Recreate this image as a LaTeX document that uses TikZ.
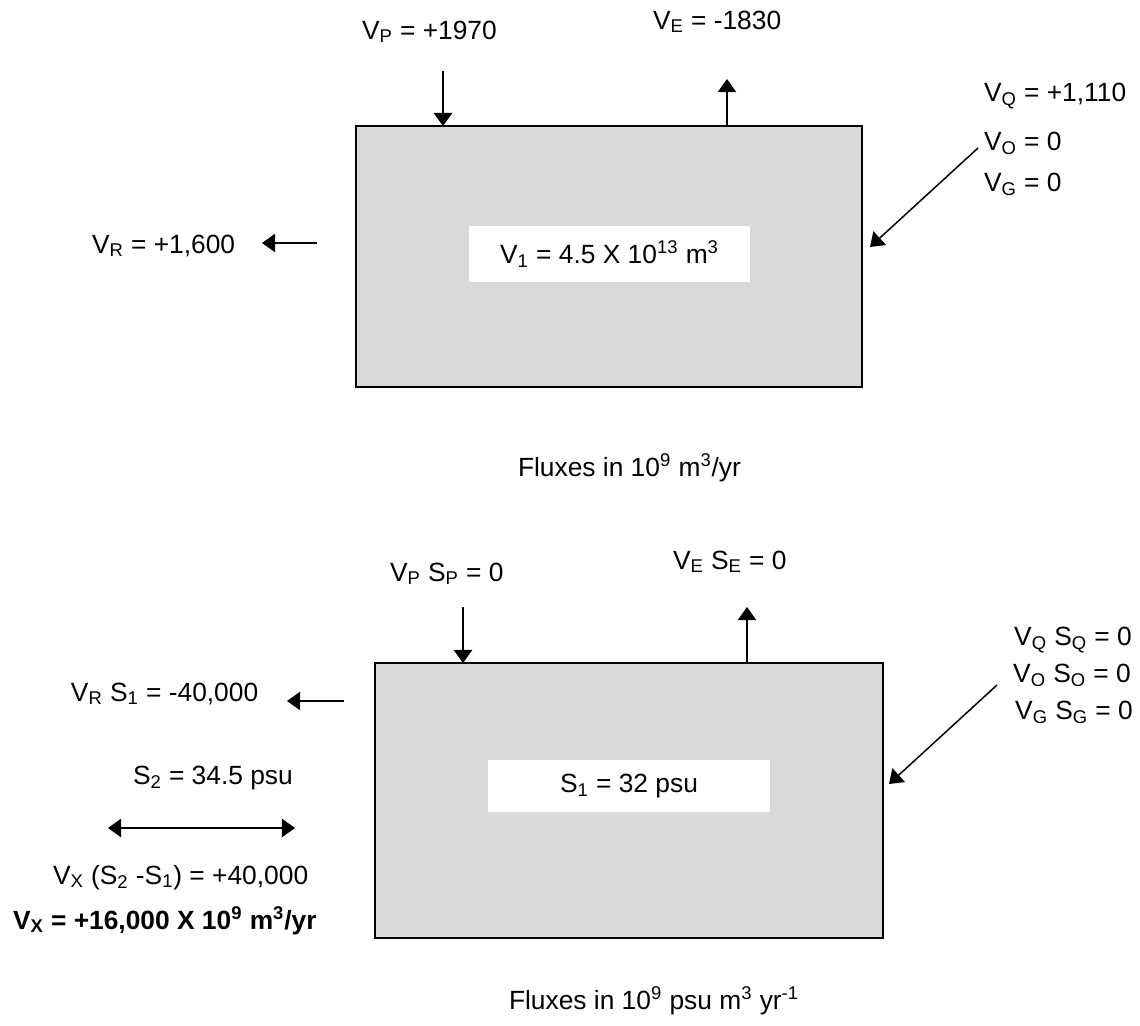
\documentclass[tikz,border=0pt]{standalone}
\usepackage{fontspec}
\setmainfont{Liberation Sans}
\usetikzlibrary{arrows.meta}
\definecolor{boxgray}{HTML}{D9D9D9}
\newcommand{\sbs}[1]{\textsubscript{#1}}
\newcommand{\sps}[1]{\textsuperscript{#1}}
\tikzset{
  pool/.style={draw=black, line width=1.1pt, fill=boxgray, inner sep=0pt, outer sep=0pt},
  inbox/.style={fill=white, inner sep=0pt, outer sep=0pt, font=\fontsize{15}{18}\selectfont},
  lbl/.style={inner sep=0pt, outer sep=0pt, anchor=base west, font=\fontsize{15}{18}\selectfont},
  lblc/.style={inner sep=0pt, outer sep=0pt, anchor=base, font=\fontsize{15}{18}\selectfont},
  tip/.tip={Triangle[length=7.5pt,width=10.5pt]},
  flow/.style={line width=0.85pt, -tip},
  bflow/.style={line width=0.85pt, tip-tip},
}
\begin{document}
\begin{tikzpicture}[x=0.02cm,y=-0.02cm]
\useasboundingbox (0,0) rectangle (1140,1025);
% ---------- top panel ----------
\node[pool, minimum width=10.12cm, minimum height=5.22cm] (box1) at (609,256.5) {};
\node[inbox, minimum width=5.62cm, minimum height=1.12cm] (v1) at (609.5,254)
  {V\sbs{1} = 4.5 X 10\sps{13} m\sps{3}};
\node[lbl] (vp1) at (362,39) {V\sbs{P} = +1970};
\node[lbl] (ve1) at (653,29) {V\sbs{E} = -1830};
\node[lbl] (vq1) at (984,101) {V\sbs{Q} = +1,110};
\node[lbl] (vo1) at (984,150) {V\sbs{O} = 0};
\node[lbl] (vg1) at (984,191) {V\sbs{G} = 0};
\node[lbl] (vr1) at (92,253) {V\sbs{R} = +1,600};
\node[lbl] (fl1) at (518,476) {Fluxes in 10\sps{9} m\sps{3}/yr};
\coordinate (p1s) at (443,71);
\coordinate (e1e) at (727,79);
\coordinate (r1s) at (317,243);
\coordinate (r1e) at (262,243);
\coordinate (q1s) at (978,148);
\coordinate (q1e) at (870,247);
\draw[flow] (p1s) -- (p1s |- box1.north);
\draw[flow] (e1e |- box1.north) -- (e1e);
\draw[flow] (r1s) -- (r1e);
\draw[flow] (q1s) -- (q1e);
% ---------- bottom panel ----------
\node[pool, minimum width=10.16cm, minimum height=5.5cm] (box2) at (629,800.5) {};
\node[inbox, minimum width=5.64cm, minimum height=1.04cm] (s1) at (629,786)
  {S\sbs{1} = 32 psu};
\node[lbl] (vp2) at (390,581) {V\sbs{P} S\sbs{P} = 0};
\node[lbl] (ve2) at (673,569) {V\sbs{E} S\sbs{E} = 0};
\node[lblc] (vq2) at (1073,645) {V\sbs{Q} S\sbs{Q} = 0};
\node[lblc] (vo2) at (1072,682) {V\sbs{O} S\sbs{O} = 0};
\node[lblc] (vg2) at (1074,719) {V\sbs{G} S\sbs{G} = 0};
\node[lbl] (vr2) at (71,701) {V\sbs{R} S\sbs{1} = -40,000};
\node[lbl] (s2) at (133,784) {S\sbs{2} = 34.5 psu};
\node[lbl] (vx1) at (53,884) {V\sbs{X} (S\sbs{2} -S\sbs{1}) = +40,000};
\node[lbl, font=\fontsize{15}{18}\selectfont\bfseries] (vx2) at (13,929) {V\sbs{X} = +16,000 X 10\sps{9} m\sps{3}/yr};
\node[lbl] (fl2) at (509,1009) {Fluxes in 10\sps{9} psu m\sps{3} yr\sps{-1}};
\coordinate (p2s) at (463,607);
\coordinate (e2e) at (747,607);
\coordinate (r2s) at (344,701);
\coordinate (r2e) at (287,701);
\coordinate (xa) at (108,828);
\coordinate (xb) at (295,828);
\coordinate (q2s) at (997,685);
\coordinate (q2e) at (889,784);
\draw[flow] (p2s) -- (p2s |- box2.north);
\draw[flow] (e2e |- box2.north) -- (e2e);
\draw[flow] (r2s) -- (r2e);
\draw[bflow] (xa) -- (xb);
\draw[flow] (q2s) -- (q2e);
\end{tikzpicture}
\end{document}
